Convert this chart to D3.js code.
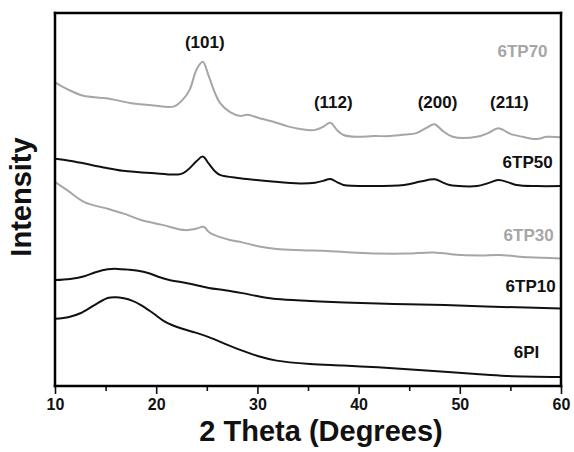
<!DOCTYPE html>
<html>
<head>
    <title>XRD patterns</title>
    <script src="https://d3js.org/d3.v7.min.js"></script>
    <style>
        body { margin: 0; background: #fff; }
        text { font-family: "Liberation Sans", Arial, sans-serif; font-weight: bold; }
    </style>
</head>
<body>
    <svg id="plot" width="574" height="452"></svg>

    <script>
        // 2 theta (deg) and intensity (a.u.), one list per sample
        const s6TP70 = [[10, 81.4], [11.2, 79.6], [12.8, 77.8], [14.4, 77.3], [15.6, 76.9], [17.4, 75.9],
            [19.5, 75.3], [21.7, 74.9], [22.6, 76.7], [23.3, 79.4], [24.0, 84.9], [24.6, 86.9],
            [25.2, 83.0], [25.8, 78.6], [26.3, 75.9], [27.3, 73.4], [28.3, 72.4], [29.0, 72.7],
            [30.2, 71.8], [31.5, 70.9], [33.0, 69.6], [34.2, 68.9], [35.6, 68.6], [36.5, 69.5],
            [37.2, 70.6], [37.9, 68.5], [38.5, 67.3], [39.8, 66.8], [41.5, 67.0], [43.1, 67.0],
            [44.6, 67.4], [45.7, 67.8], [46.7, 69.2], [47.5, 70.2], [48.3, 68.4], [49.3, 66.8],
            [51.7, 66.8], [52.8, 67.8], [53.8, 69.1], [55.0, 67.6], [56.2, 66.8], [57.6, 66.2],
            [58.6, 66.8], [60, 66.7]];
        const s6TP50 = [[10, 60.9], [11.4, 60.4], [12.8, 59.7], [14.8, 58.6], [16.7, 57.7], [19.5, 57.1],
            [22.4, 56.8], [23.1, 57.9], [24.0, 60.3], [24.6, 61.5], [25.2, 59.6], [25.8, 57.6],
            [26.3, 56.6], [28.3, 55.7], [31.2, 54.9], [34.2, 54.3], [35.7, 54.5], [36.5, 55.0],
            [37.2, 55.5], [37.9, 54.6], [38.5, 53.9], [41.4, 53.6], [44.5, 53.9], [46.1, 54.8],
            [47.5, 55.4], [48.3, 54.6], [49.0, 53.9], [51.7, 53.6], [52.8, 54.4], [53.8, 55.2],
            [54.8, 54.6], [55.6, 53.9], [57.6, 53.6], [60, 53.6]];
        const s6TP30 = [[10, 54.7], [11.3, 52.3], [12.9, 49.3], [15.2, 47.5], [16.8, 46.2], [18.5, 44.5],
            [20.6, 43.2], [22.8, 41.8], [23.7, 42.0], [24.2, 42.4], [24.7, 42.7], [25.2, 41.3],
            [25.9, 40.3], [27.2, 39.2], [28.5, 38.5], [30.2, 37.4], [31.9, 36.7], [34.4, 36.4],
            [36.9, 36.2], [39.4, 35.8], [41.9, 35.5], [44.8, 35.5], [47.4, 35.8], [50.2, 35.1],
            [52.1, 35.0], [53.9, 35.1], [56.8, 34.5], [60, 34.2]];
        const s6TP10 = [[10, 28.4], [11.5, 28.7], [12.9, 29.4], [14.0, 30.5], [15.2, 31.3], [16.2, 31.4],
            [17.2, 31.2], [18.2, 30.9], [19.2, 30.3], [20.2, 29.3], [21.2, 28.5], [23.2, 27.5],
            [25.2, 26.3], [26.8, 25.7], [28.5, 24.9], [30.2, 24.0], [31.9, 23.3], [35.2, 22.8],
            [38.6, 22.4], [43.5, 22.0], [48.5, 21.7], [54.2, 21.2], [60, 20.8]];
        const s6PI = [[10, 18.0], [11.4, 18.5], [12.5, 19.5], [13.9, 21.7], [15.2, 23.6], [16.0, 23.8],
            [16.8, 23.5], [17.6, 22.9], [18.5, 21.7], [19.7, 19.5], [20.9, 17.2], [22.5, 15.4],
            [23.9, 14.3], [25.2, 13.1], [26.8, 11.3], [28.5, 9.5], [30.2, 7.9], [31.9, 6.8],
            [35.2, 5.9], [38.5, 5.5], [41.9, 5.0], [45.2, 4.4], [48.5, 3.8], [51.6, 3.2],
            [54.6, 2.7], [60, 2.4]];

        const sampleNames = ['6TP70', '6TP50', '6TP30', '6TP10', '6PI'];
        const sampleData = [s6TP70, s6TP50, s6TP30, s6TP10, s6PI];
        const sampleColors = ['#a6a6a6', '#111', '#a6a6a6', '#111', '#111'];
        // label anchor per sample (2 theta, intensity)
        const sampleLabelPos = [[56.2, 88.2], [56.7, 58.4], [56.8, 39.0], [57.0, 25.2], [56.6, 7.5]];

        const peakNames = ['(101)', '(112)', '(200)', '(211)'];
        const peakPos = [[24.8, 90.6], [37.5, 74.5], [47.8, 74.5], [54.9, 74.5]];

        const xTicks = [10, 20, 30, 40, 50, 60];
        const xMinorTicks = [15, 25, 35, 45, 55];

        const width = 574, height = 452;
        const margin = { top: 13, right: 13, bottom: 66, left: 55 };

        const svg = d3.select('#plot');

        const x = d3.scaleLinear().domain([10, 60]).range([margin.left, width - margin.right]);
        const y = d3.scaleLinear().domain([0, 100]).range([height - margin.bottom, margin.top]);

        const line = d3.line()
            .x(function (d) { return x(d[0]); })
            .y(function (d) { return y(d[1]); })
            .curve(d3.curveCatmullRom.alpha(0.5));

        // curves
        sampleData.forEach(function (data, i) {
            svg.append('path')
                .datum(data)
                .attr('d', line)
                .attr('fill', 'none')
                .attr('stroke', sampleColors[i])
                .attr('stroke-width', 2)
                .attr('stroke-linejoin', 'round');
        });

        const x0 = x.range()[0], x1 = x.range()[1];
        const yTop = y.range()[1], yBot = y.range()[0];

        // x axis
        const xAxis = d3.axisBottom(x)
            .tickValues(xTicks)
            .tickSize(8)
            .tickSizeOuter(0)
            .tickPadding(5)
            .tickFormat(d3.format('d'));
        const gx = svg.append('g')
            .attr('transform', 'translate(0,' + yBot + ')')
            .call(xAxis);
        gx.select('.domain').remove();
        gx.selectAll('.tick line').attr('stroke', '#111').attr('stroke-width', 1.6);
        gx.selectAll('.tick text')
            .attr('fill', '#111')
            .style('font-size', '16px')
            .style('font-family', '"Liberation Sans", Arial, sans-serif')
            .style('font-weight', 'bold');

        const gxMinor = svg.append('g')
            .attr('transform', 'translate(0,' + yBot + ')')
            .call(d3.axisBottom(x).tickValues(xMinorTicks).tickSize(5).tickFormat(''));
        gxMinor.select('.domain').remove();
        gxMinor.selectAll('.tick line').attr('stroke', '#111').attr('stroke-width', 1.6);

        // axis titles
        svg.append('text')
            .attr('x', 321)
            .attr('y', 441)
            .attr('text-anchor', 'middle')
            .style('font-size', '29px')
            .attr('fill', '#111')
            .text('2 Theta (Degrees)');

        svg.append('text')
            .attr('transform', 'translate(31,' + 197 + ') rotate(-90)')
            .attr('text-anchor', 'middle')
            .style('font-size', '29px')
            .attr('fill', '#111')
            .text('Intensity');

        // sample labels
        sampleNames.forEach(function (name, i) {
            svg.append('text')
                .attr('x', x(sampleLabelPos[i][0]))
                .attr('y', y(sampleLabelPos[i][1]))
                .attr('text-anchor', 'middle')
                .style('font-size', '17px')
                .attr('fill', sampleColors[i])
                .text(name);
        });

        // reflection labels
        peakNames.forEach(function (name, i) {
            svg.append('text')
                .attr('x', x(peakPos[i][0]))
                .attr('y', y(peakPos[i][1]))
                .attr('text-anchor', 'middle')
                .style('font-size', '17px')
                .attr('fill', '#111')
                .text(name);
        });

        // frame drawn last, on top of everything
        const frameLines = [[x0, yTop, x1, yTop], [x1, yTop, x1, yBot], [x0, yTop, x0, yBot], [x0, yBot, x1, yBot]];
        svg.append('g').attr('class', 'frame').selectAll('line')
            .data(frameLines)
            .enter()
            .append('line')
            .attr('x1', function (d) { return d[0]; })
            .attr('y1', function (d) { return d[1]; })
            .attr('x2', function (d) { return d[2]; })
            .attr('y2', function (d) { return d[3]; })
            .style('stroke', '#000')
            .style('stroke-width', '2.5px')
            .style('stroke-linecap', 'square');
    </script>
</body>
</html>
